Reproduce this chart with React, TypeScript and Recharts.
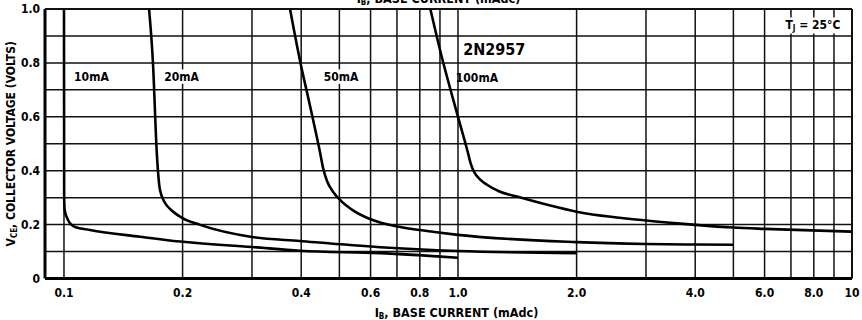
import React from 'react';
import { LineChart, Line, XAxis, YAxis, ReferenceLine, ReferenceDot } from 'recharts';

const FONT = "'Liberation Sans Narrow', 'DejaVu Sans Condensed', 'Liberation Sans', Arial, sans-serif";

// I_B (mAdc) / V_CE (volts) for each collector current curve
const ib10 = [0.1, 0.1001, 0.1004, 0.1018, 0.1036, 0.1066, 0.1164, 0.1559, 0.197, 0.3, 0.397, 0.634, 1.0];
const vce10 = [1.0, 0.3, 0.255, 0.225, 0.205, 0.191, 0.18, 0.155, 0.137, 0.117, 0.103, 0.094, 0.077];

const ib20 = [0.1644, 0.1682, 0.172, 0.1752, 0.1804, 0.1868, 0.1993, 0.2215, 0.3, 0.397, 0.634, 1.0, 2.0];
const vce20 = [1.0, 0.8, 0.467, 0.329, 0.281, 0.255, 0.225, 0.199, 0.154, 0.139, 0.116, 0.102, 0.094];

const ib50 = [0.3747, 0.397, 0.4214, 0.4467, 0.4544, 0.4651, 0.4817, 0.5047, 0.5414, 0.5977, 0.7003, 0.8, 1.0, 2.0, 3.0, 4.0, 5.0];
const vce50 = [1.0, 0.81, 0.639, 0.467, 0.411, 0.362, 0.322, 0.288, 0.253, 0.221, 0.193, 0.18, 0.162, 0.135, 0.128, 0.126, 0.125];

const ib100 = [0.8508, 0.9, 1.0, 1.06, 1.0758, 1.098, 1.137, 1.185, 1.2743, 1.4114, 2.0, 3.0, 4.0, 5.0, 6.0, 10];
const vce100 = [1.0, 0.849, 0.6, 0.466, 0.429, 0.396, 0.368, 0.348, 0.323, 0.304, 0.248, 0.215, 0.199, 0.189, 0.184, 0.174];

const xTicks = [0.1, 0.2, 0.4, 0.6, 0.8, 1.0, 2.0, 4.0, 6.0, 8.0, 10];
const xTickLabels = ['0.1', '0.2', '0.4', '0.6', '0.8', '1.0', '2.0', '4.0', '6.0', '8.0', '10'];
const yTicks = [0, 0.2, 0.4, 0.6, 0.8, 1.0];
const yTickLabels = ['0', '0.2', '0.4', '0.6', '0.8', '1.0'];

const xGrid = [0.1, 0.2, 0.3, 0.4, 0.5, 0.6, 0.7, 0.8, 0.9, 1, 2, 3, 4, 5, 6, 7, 8, 9];
const yGrid = [0.1, 0.2, 0.3, 0.4, 0.5, 0.6, 0.7, 0.8, 0.9];

const curveLabels = ['10mA', '20mA', '50mA', '100mA'];
const curveLabelX = [0.1174, 0.1987, 0.5052, 1.117];
const curveLabelY = [0.749, 0.749, 0.749, 0.745];

const partNumber = '2N2957';
const partX = 1.236;
const partY = 0.849;
const tempLabel = ' = 25°C';
const tempX = 7.96;
const tempY = 0.939;

const zip = (xs: number[], ys: number[]) => xs.map((x, i) => ({ ib: x, v: ys[i] }));
const series = [zip(ib10, vce10), zip(ib20, vce20), zip(ib50, vce50), zip(ib100, vce100)];

const txt = { fontFamily: FONT, fontWeight: 700, fill: '#000' } as const;

const boxLabel = (text: string, size: number, w: number) => (p: any) => (
  <g>
    <rect x={p.cx - w / 2} y={p.cy - size * 0.6} width={w} height={size * 1.2} fill="#fff" />
    <text x={p.cx} y={p.cy} textAnchor="middle" dominantBaseline="central" fontSize={size} style={txt}>{text}</text>
  </g>
);

const tempShape = (p: any) => (
  <g>
    <rect x={p.cx - 30} y={p.cy - 8} width={60} height={16} fill="#fff" />
    <text x={p.cx} y={p.cy + 4} textAnchor="middle" fontSize={12} style={txt}>
      T<tspan fontSize={8} dy={2}>J</tspan><tspan dy={-2}>{tempLabel}</tspan>
    </text>
  </g>
);

const XTick = (p: any) => (
  <text x={p.x} y={p.y + 18} textAnchor="middle" fontSize={12} style={txt}>{xTickLabels[p.index]}</text>
);
const YTick = (p: any) => (
  <text x={p.x - 5} y={p.y + 4} textAnchor="end" fontSize={12} style={txt}>{yTickLabels[p.index]}</text>
);

const XTitle = (p: any) => {
  const vb = p.viewBox;
  const cx = vb.x + vb.width / 2;
  return (
    <g>
      <text x={cx + 8} y={vb.y + 38} textAnchor="middle" fontSize={12.5} style={txt}>
        I<tspan fontSize={8} dy={2}>B</tspan><tspan dy={-2}>, BASE CURRENT (mAdc)</tspan>
      </text>
      <text x={cx - 10} y={3} textAnchor="middle" fontSize={12.5} style={txt}>
        I<tspan fontSize={8} dy={2}>B</tspan><tspan dy={-2}>, BASE CURRENT (mAdc)</tspan>
      </text>
    </g>
  );
};

const YTitle = (p: any) => {
  const vb = p.viewBox;
  const cy = vb.y + vb.height / 2;
  const cx = 15;
  return (
    <text x={cx} y={cy} transform={`rotate(-90 ${cx} ${cy})`} textAnchor="middle" fontSize={12} style={txt}>
      V<tspan fontSize={8} dy={2}>CE</tspan><tspan dy={-2}>, COLLECTOR VOLTAGE (VOLTS)</tspan>
    </text>
  );
};

export default function App() {
  return (
    <div style={{ position: 'absolute', left: 0, top: 0, width: 862, height: 320, background: '#fff' }}>
      <LineChart width={862} height={320} margin={{ top: 9, right: 10, bottom: 0, left: 0 }}>
        <XAxis
          dataKey="ib"
          type="number"
          scale="log"
          domain={[0.0895, 10]}
          allowDataOverflow
          ticks={xTicks}
          interval={0}
          tick={XTick}
          tickLine={false}
          tickSize={0}
          tickMargin={0}
          height={41.5}
          axisLine={{ stroke: '#000', strokeWidth: 3 }}
          label={XTitle}
        />
        <YAxis
          dataKey="v"
          type="number"
          domain={[0, 1]}
          allowDataOverflow
          ticks={yTicks}
          interval={0}
          tick={YTick}
          tickLine={false}
          tickSize={0}
          tickMargin={0}
          width={45}
          axisLine={{ stroke: '#000', strokeWidth: 3 }}
          label={YTitle}
        />
        {xGrid.map((g) => (
          <ReferenceLine key={'x' + g} x={g} stroke="#111" strokeWidth={1.5} />
        ))}
        {yGrid.map((g) => (
          <ReferenceLine key={'y' + g} y={g} stroke="#111" strokeWidth={1.5} />
        ))}
        <ReferenceLine x={10} stroke="#111" strokeWidth={2} />
        <ReferenceLine y={1} stroke="#111" strokeWidth={2} />
        {curveLabels.map((l, i) => (
          <ReferenceDot key={l} x={curveLabelX[i]} y={curveLabelY[i]} shape={boxLabel(l, 12, l.length * 7)} />
        ))}
        <ReferenceDot x={partX} y={partY} shape={boxLabel(partNumber, 16, 50)} />
        <ReferenceDot x={tempX} y={tempY} shape={tempShape} />
        {series.map((d, i) => (
          <Line
            key={curveLabels[i]}
            data={d}
            dataKey="v"
            type="monotone"
            stroke="#000"
            strokeWidth={2.6}
            dot={false}
            activeDot={false}
            isAnimationActive={false}
          />
        ))}
      </LineChart>
    </div>
  );
}
